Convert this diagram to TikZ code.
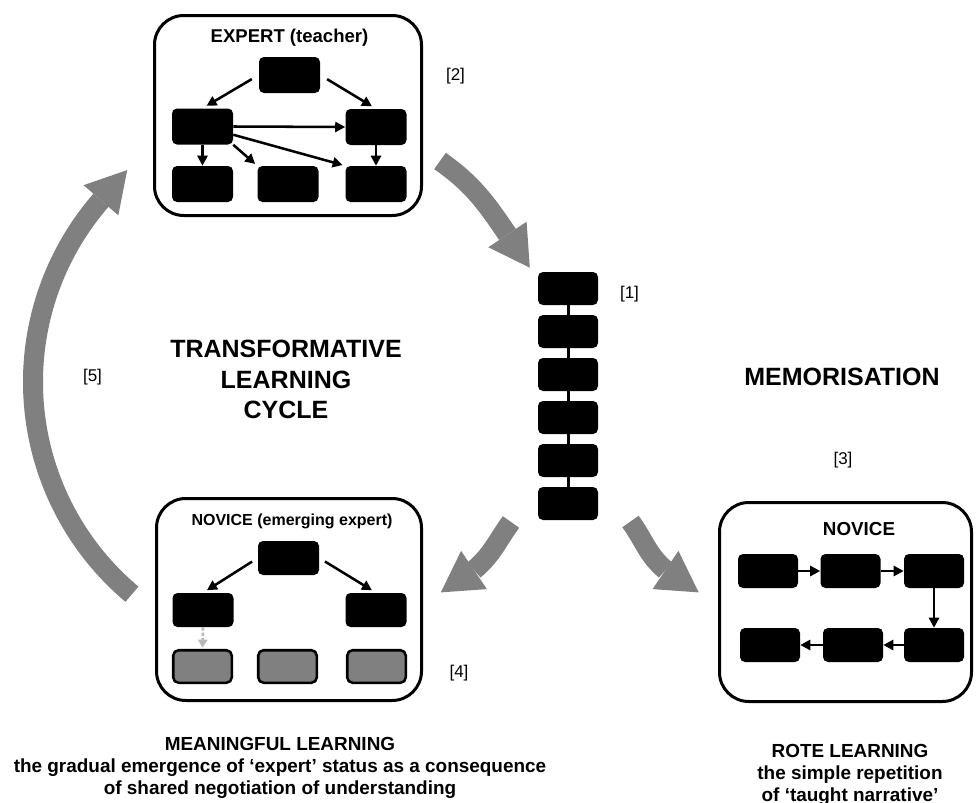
\documentclass[tikz,border=0pt]{standalone}
\usepackage{fontspec}
\setmainfont{Liberation Sans}
\usetikzlibrary{arrows.meta,calc}
\definecolor{bigarrow}{gray}{0.5}
\definecolor{lightarrow}{gray}{0.72}
\definecolor{boxgray}{gray}{0.5}
\newcommand\fntBig{\fontsize{18.75pt}{22pt}\selectfont\bfseries}
\newcommand\fntBottom{\fontsize{14.2pt}{16pt}\selectfont\bfseries}
\newcommand\fntExpert{\fontsize{13.9pt}{16pt}\selectfont\bfseries}
\newcommand\fntEmerg{\fontsize{12pt}{14pt}\selectfont\bfseries}
\newcommand\fntNov{\fontsize{14.1pt}{16pt}\selectfont\bfseries}
\newcommand\fntTag{\fontsize{12.75pt}{14pt}\selectfont}
\begin{document}
\begin{tikzpicture}[x=0.75pt,y=0.75pt,
  frame/.style={draw=black,line width=2.25pt,rounded corners=22pt,fill=white,inner sep=0pt},
  blk/.style={fill=black,rounded corners=3.75pt,inner sep=0pt,minimum width=45.75pt,minimum height=27pt},
  chainbox/.style={blk,minimum width=45pt,minimum height=24.75pt},
  novbox/.style={blk,minimum height=25.5pt},
  rotebox/.style={blk,minimum width=45pt,minimum height=25.5pt},
  greybox/.style={fill=boxgray,draw=black,line width=1.9pt,rounded corners=4pt,inner sep=0pt,minimum width=43.9pt,minimum height=24.4pt},
  conn/.style={line width=1.9pt,-{Triangle[length=7.5pt,width=7.5pt]}},
  lightconn/.style={draw=lightarrow,line width=1.9pt,dash pattern=on 2.5pt off 1.5pt,-{Triangle[length=6pt,width=7pt]}},
  bigshaft/.style={draw=bigarrow,line width=15pt},
  bighead/.style={fill=bigarrow},
  txt/.style={inner sep=0pt,anchor=base},
  tag/.style={inner sep=0pt,font=\fntTag}
]
\fill[white] (0,0) rectangle (976,-803);
\useasboundingbox (0,0) rectangle (976,-803);

% ---- big grey arrows ----
\coordinate (ctr) at (310,-382);
\coordinate (dStart) at ($(ctr)+(230:277)$);
\coordinate (dBase) at ($(ctr)+(139:277)$);
\coordinate (dW1) at ($(ctr)+(139:300)$);
\coordinate (dW2) at ($(ctr)+(139:254)$);
\coordinate (dTip) at ($(dBase)+(49:40)$);
\draw[bigshaft] (dStart) arc[start angle=230,end angle=139,radius=277];
\fill[bighead] (dW1) -- (dTip) -- (dW2) -- cycle;

\coordinate (aStart) at (440,-161);
\coordinate (aBase) at (507.5,-234.5);
\coordinate (aW1) at (526.6,-221.7);
\coordinate (aW2) at (488.4,-247.3);
\coordinate (aTip) at (529.8,-267.7);
\draw[bigshaft] (aStart) to[out=-35,in=124] (aBase);
\fill[bighead] (aW1) -- (aTip) -- (aW2) -- cycle;

\coordinate (bStart) at (511,-522);
\coordinate (bBase) at (474,-570);
\coordinate (bW1) at (486.9,-589.1);
\coordinate (bW2) at (461.1,-550.9);
\coordinate (bTip) at (440.8,-592.4);
\draw[bigshaft] (bStart) to[out=-126,in=40] (bBase);
\fill[bighead] (bW1) -- (bTip) -- (bW2) -- cycle;

\coordinate (cStart) at (630.5,-521.5);
\coordinate (cBase) at (665.5,-570);
\coordinate (cW1) at (678.4,-550.9);
\coordinate (cW2) at (652.6,-589.1);
\coordinate (cTip) at (698.7,-592.4);
\draw[bigshaft] (cStart) to[out=-54,in=140] (cBase);
\fill[bighead] (cW1) -- (cTip) -- (cW2) -- cycle;

% ---- frames ----
\node[frame,minimum width=200.25pt,minimum height=150pt] (expert) at (288,-115.5) {};
\node[frame,minimum width=198.75pt,minimum height=151.5pt] (novice) at (289,-599.5) {};
\node[frame,minimum width=189pt,minimum height=149.25pt] (rote) at (845.5,-602) {};

\node[txt,font=\fntExpert] (tExp) at (289.5,-42) {EXPERT (teacher)};
\node[txt,font=\fntEmerg] (tEmerg) at (292,-525) {NOVICE (emerging expert)};
\node[txt,font=\fntNov] (tNov) at (859,-535) {NOVICE};

% ---- expert map ----
\node[blk] (et) at (289.5,-75) {};
\node[blk] (eml) at (202.5,-126.5) {};
\node[blk] (emr) at (376,-127) {};
\node[blk] (ebl) at (202.5,-184) {};
\node[blk] (ebm) at (288,-184) {};
\node[blk] (ebr) at (376,-184) {};
\draw[conn,shorten <=6pt,shorten >=3.5pt] (et.west) -- (eml.north);
\draw[conn,shorten <=6pt,shorten >=3.5pt] (et.east) -- (emr.north);
\draw[conn] (eml.east) -- (emr.west);
\draw[conn,shorten >=2pt] (eml.south east) -- (ebm.north west);
\draw[conn,shorten >=2pt] (eml.-15) -- (ebr.north west);
\draw[conn] (eml.south) -- (ebl.north);
\draw[conn] (emr.south) -- (ebr.north);

% ---- chain ----
\node[chainbox] (c1) at (568,-288.5) {};
\node[chainbox] (c2) at (568,-331.5) {};
\node[chainbox] (c3) at (568,-374.5) {};
\node[chainbox] (c4) at (568,-417.5) {};
\node[chainbox] (c5) at (568,-460.5) {};
\node[chainbox] (c6) at (568,-503.5) {};
\draw[line width=2.25pt] (c1) -- (c2) -- (c3) -- (c4) -- (c5) -- (c6);

% ---- novice (emerging expert) ----
\node[novbox] (nt) at (288.5,-558) {};
\node[novbox] (nl) at (203,-610) {};
\node[novbox] (nr) at (376,-610) {};
\node[greybox] (g1) at (202.5,-666.5) {};
\node[greybox] (g2) at (287.5,-666.5) {};
\node[greybox] (g3) at (376.5,-666.5) {};
\draw[conn,shorten <=5pt,shorten >=3.5pt] (nt.west) -- (nl.north);
\draw[conn,shorten <=5pt,shorten >=3.5pt] (nt.east) -- (nr.north);
\draw[lightconn,shorten >=1pt] (nl.south) -- (g1.north);

% ---- rote novice ----
\node[rotebox] (r1) at (768,-571) {};
\node[rotebox] (r2) at (850.5,-571) {};
\node[rotebox] (r3) at (934,-571) {};
\node[rotebox] (r4) at (770,-645) {};
\node[rotebox] (r5) at (853,-645) {};
\node[rotebox] (r6) at (934,-645) {};
\draw[conn] (r1.east) -- (r2.west);
\draw[conn] (r2.east) -- (r3.west);
\draw[conn] (r3.south) -- (r6.north);
\draw[conn] (r6.west) -- (r5.east);
\draw[conn] (r5.west) -- (r4.east);

% ---- labels ----
\node[tag] (l1) at (629.5,-294.5) {[1]};
\node[tag] (l2) at (455.5,-76) {[2]};
\node[tag] (l3) at (843,-460) {[3]};
\node[tag] (l4) at (459,-673) {[4]};
\node[tag] (l5) at (92.5,-377) {[5]};

\node[txt,font=\fntBig] (tc1) at (286,-357) {TRANSFORMATIVE};
\node[txt,font=\fntBig] (tc2) at (286,-388) {LEARNING};
\node[txt,font=\fntBig] (tc3) at (286,-418) {CYCLE};
\node[txt,font=\fntBig] (mem) at (842,-385) {MEMORISATION};

\node[txt,font=\fntBottom] (ml1) at (280,-750) {MEANINGFUL LEARNING};
\node[txt,font=\fntBottom] (ml2) at (280,-772) {the gradual emergence of ‘expert’ status as a consequence};
\node[txt,font=\fntBottom] (ml3) at (280,-794) {of shared negotiation of understanding};
\node[txt,font=\fntBottom] (rl1) at (850,-757) {ROTE LEARNING};
\node[txt,font=\fntBottom] (rl2) at (850,-779) {the simple repetition};
\node[txt,font=\fntBottom] (rl3) at (850,-801) {of ‘taught narrative’};
\end{tikzpicture}
\end{document}
